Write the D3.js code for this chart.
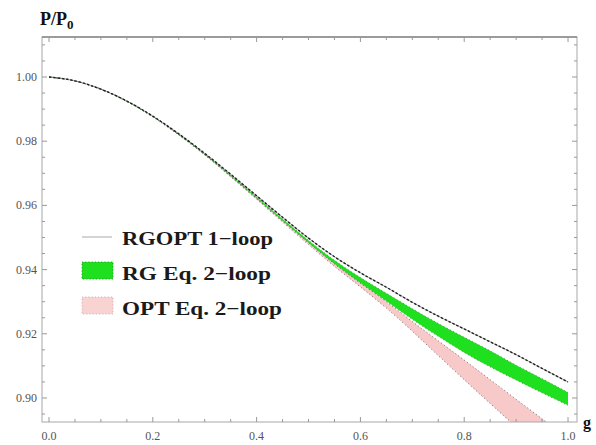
<!DOCTYPE html>
<html><head><meta charset="utf-8">
<script src="https://cdn.jsdelivr.net/npm/d3@7"></script>
<style>body{margin:0;background:#fff}svg{display:block}</style>
</head><body>
<svg id="c" width="596" height="445"></svg>
<script>
// ---- data ----
const xs     = [0,0.05,0.1,0.15,0.2,0.25,0.3,0.35,0.4,0.45,0.5,0.55,0.6,0.65,0.7,0.75,0.8,0.85,0.9,0.95,1.0];
const rgopt1 = [1.0000,0.9988,0.9962,0.9925,0.9878,0.9823,0.9762,0.9697,0.9630,0.9563,0.9498,0.9440,0.9390,0.9345,0.9298,0.9255,0.9215,0.9175,0.9135,0.9092,0.9050];
const rgHi   = [1.0000,0.9988,0.9962,0.9925,0.9877,0.9822,0.9760,0.9694,0.9626,0.9558,0.9491,0.9429,0.9375,0.9326,0.9278,0.9232,0.9189,0.9147,0.9102,0.9060,0.9017];
const rgLo   = [1.0000,0.9988,0.9962,0.9924,0.9876,0.9820,0.9758,0.9691,0.9622,0.9552,0.9484,0.9418,0.9358,0.9302,0.9245,0.9192,0.9142,0.9097,0.9056,0.9016,0.8977];
const optHi  = [1.0000,0.9988,0.9962,0.9924,0.9876,0.9820,0.9758,0.9691,0.9622,0.9552,0.9484,0.9418,0.9358,0.9300,0.9238,0.9178,0.9118,0.9057,0.8996,0.8935,0.8875];
const optLo  = [1.0000,0.9988,0.9962,0.9924,0.9876,0.9819,0.9757,0.9689,0.9619,0.9548,0.9478,0.9410,0.9346,0.9280,0.9208,0.9132,0.9057,0.8983,0.8910,0.8838,0.8765];
const xTickVals = [0,0.2,0.4,0.6,0.8,1.0];
const xTickLabels = ["0.0","0.2","0.4","0.6","0.8","1.0"];
const yTickVals = [0.90,0.92,0.94,0.96,0.98,1.00];
const yTickLabels = ["0.90","0.92","0.94","0.96","0.98","1.00"];
const legendLabels = ["RGOPT 1\u2212loop","RG Eq. 2\u2212loop","OPT Eq. 2\u2212loop"];

// ---- layout ----
const L=42,R=577,T=37,B=422;
const x=d3.scaleLinear().domain([-0.0135,1.0173]).range([L,R]);
const y=d3.scaleLinear().domain([0.89252,1.01246]).range([B,T]);
const svg=d3.select("#c");
svg.append("defs").append("clipPath").attr("id","clip")
  .append("rect").attr("x",L).attr("y",T).attr("width",R-L).attr("height",B-T);

const idx=d3.range(xs.length);
const g=svg.append("g").attr("clip-path","url(#clip)");
const curve=d3.curveMonotoneX;
const area=(hi,lo)=>d3.area().curve(curve).x(i=>x(xs[i])).y0(i=>y(lo[i])).y1(i=>y(hi[i]));
const line=(arr)=>d3.line().curve(curve).x(i=>x(xs[i])).y(i=>y(arr[i]));

// OPT band (pink)
g.append("path").attr("d",area(optHi,optLo)(idx)).attr("fill","#f7c9c9");
// RG band (green)
g.append("path").attr("d",area(rgHi,rgLo)(idx)).attr("fill","#1fe01f");
// dotted edges
[optHi,optLo].forEach(a=>g.append("path").attr("d",line(a)(idx)).attr("fill","none")
  .attr("stroke","#8a7a7a").attr("stroke-width",1).attr("stroke-dasharray","1.2,2.4"));
[rgHi,rgLo].forEach(a=>g.append("path").attr("d",line(a)(idx)).attr("fill","none")
  .attr("stroke","#4a8a4a").attr("stroke-width",0.8).attr("stroke-dasharray","1.2,2.4"));
// RGOPT 1-loop
g.append("path").attr("d",line(rgopt1)(idx)).attr("fill","none").attr("stroke","#888").attr("stroke-width",0.8);
g.append("path").attr("d",line(rgopt1)(idx)).attr("fill","none").attr("stroke","#222").attr("stroke-width",1.4).attr("stroke-dasharray","2.5,1.8");

// ---- frame & ticks ----
const fc="#a8a8a8";
svg.append("rect").attr("x",L).attr("y",T).attr("width",R-L).attr("height",B-T)
  .attr("fill","none").attr("stroke",fc).attr("stroke-width",1);
svg.append("line").attr("x1",L).attr("x2",R).attr("y1",T).attr("y2",T).attr("stroke","#888").attr("stroke-width",1.6);

const xMinor=d3.range(0,1.0001,0.05);
const yMinor=d3.range(0.895,1.0101,0.005);
const tk=svg.append("g").attr("stroke","#999").attr("stroke-width",1);
xMinor.forEach(v=>{
  const major=xTickVals.some(t=>Math.abs(t-v)<1e-6);
  const len=major?5:3;
  tk.append("line").attr("x1",x(v)).attr("x2",x(v)).attr("y1",B).attr("y2",B-len);
  tk.append("line").attr("x1",x(v)).attr("x2",x(v)).attr("y1",T).attr("y2",T+len);
});
yMinor.forEach(v=>{
  const major=yTickVals.some(t=>Math.abs(t-v)<1e-6);
  const len=major?5:3;
  tk.append("line").attr("x1",L).attr("x2",L+len).attr("y1",y(v)).attr("y2",y(v));
  tk.append("line").attr("x1",R).attr("x2",R-len).attr("y1",y(v)).attr("y2",y(v));
});

const serif='"Liberation Serif","Times New Roman",Times,serif';
xTickVals.forEach((v,i)=>svg.append("text").attr("x",x(v)).attr("y",440)
  .attr("text-anchor","middle").style("font-family",serif).style("font-size","12px").attr("fill","#555").text(xTickLabels[i]));
yTickVals.forEach((v,i)=>svg.append("text").attr("x",37).attr("y",y(v)+4)
  .attr("text-anchor","end").style("font-family",serif).style("font-size","12px").attr("fill","#555").text(yTickLabels[i]));

// axis labels
const yl=svg.append("text").attr("x",40).attr("y",25).style("font-family",serif)
  .style("font-weight","bold").style("font-size","18px").attr("fill","#111");
yl.append("tspan").text("P/P");
yl.append("tspan").style("font-size","13px").attr("dy",4).text("0");
svg.append("text").attr("x",583).attr("y",428).style("font-family",serif)
  .style("font-weight","bold").style("font-size","16px").attr("fill","#111").text("g");

// ---- legend ----
const lg=svg.append("g");
lg.append("line").attr("x1",82).attr("x2",112).attr("y1",237).attr("y2",237).attr("stroke","#aaa").attr("stroke-width",1);
lg.append("rect").attr("x",82).attr("y",262).attr("width",31).attr("height",17).attr("fill","#1fe01f")
  .attr("stroke","#3a7a3a").attr("stroke-width",0.8).attr("stroke-dasharray","1.2,2");
lg.append("rect").attr("x",82).attr("y",297).attr("width",31).attr("height",17).attr("fill","#f9d2d2")
  .attr("stroke","#c8a8a8").attr("stroke-width",0.8).attr("stroke-dasharray","1.2,2");
const lw=[151,149,160];
legendLabels.forEach((t,i)=>lg.append("text").attr("x",122).attr("y",245+35*i)
  .style("font-family",serif).style("font-weight","bold").style("font-size","19px").attr("fill","#1a1a1a")
  .attr("textLength",lw[i]).attr("lengthAdjust","spacingAndGlyphs").text(t));
</script>
</body></html>
